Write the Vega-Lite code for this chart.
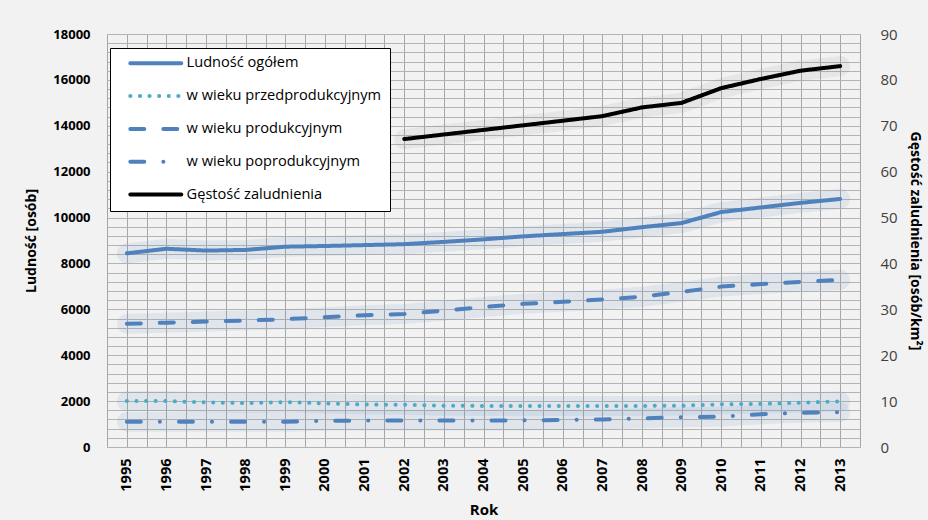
{
  "$schema": "https://vega.github.io/schema/vega-lite/v6.json",
  "width": 753,
  "height": 413,
  "autosize": {"type": "none"},
  "padding": {"left": 107, "top": 34, "right": 68, "bottom": 73},
  "background": "#f2f2f2",
  "config": {
    "font": "Open Sans",
    "view": {"stroke": null, "fill": "#f2f2f2"},
    "legend": {
      "orient": "none",
      "legendX": 3,
      "legendY": 14,
      "fillColor": "#ffffff",
      "strokeColor": "#000000",
      "padding": 8,
      "symbolType": "M-1,0L16,0",
      "symbolStrokeWidth": 4,
      "symbolSize": 36,
      "symbolOffset": 8,
      "labelFontSize": 14.6,
      "labelColor": "#000000",
      "labelOffset": 46,
      "labelLimit": 400,
      "rowPadding": 15.8
    }
  },
  "datasets": {
    "pop": [
      {"year": 1995, "series": "Ludność ogółem", "value": 8440},
      {"year": 1996, "series": "Ludność ogółem", "value": 8640},
      {"year": 1997, "series": "Ludność ogółem", "value": 8560},
      {"year": 1998, "series": "Ludność ogółem", "value": 8590},
      {"year": 1999, "series": "Ludność ogółem", "value": 8730},
      {"year": 2000, "series": "Ludność ogółem", "value": 8760},
      {"year": 2001, "series": "Ludność ogółem", "value": 8800},
      {"year": 2002, "series": "Ludność ogółem", "value": 8840},
      {"year": 2003, "series": "Ludność ogółem", "value": 8940},
      {"year": 2004, "series": "Ludność ogółem", "value": 9050},
      {"year": 2005, "series": "Ludność ogółem", "value": 9180},
      {"year": 2006, "series": "Ludność ogółem", "value": 9280},
      {"year": 2007, "series": "Ludność ogółem", "value": 9380},
      {"year": 2008, "series": "Ludność ogółem", "value": 9580},
      {"year": 2009, "series": "Ludność ogółem", "value": 9760},
      {"year": 2010, "series": "Ludność ogółem", "value": 10240},
      {"year": 2011, "series": "Ludność ogółem", "value": 10440},
      {"year": 2012, "series": "Ludność ogółem", "value": 10640},
      {"year": 2013, "series": "Ludność ogółem", "value": 10810},
      {"year": 1995, "series": "w wieku przedprodukcyjnym", "value": 2000},
      {"year": 1996, "series": "w wieku przedprodukcyjnym", "value": 2000},
      {"year": 1997, "series": "w wieku przedprodukcyjnym", "value": 1950},
      {"year": 1998, "series": "w wieku przedprodukcyjnym", "value": 1910},
      {"year": 1999, "series": "w wieku przedprodukcyjnym", "value": 1960},
      {"year": 2000, "series": "w wieku przedprodukcyjnym", "value": 1900},
      {"year": 2001, "series": "w wieku przedprodukcyjnym", "value": 1850},
      {"year": 2002, "series": "w wieku przedprodukcyjnym", "value": 1840},
      {"year": 2003, "series": "w wieku przedprodukcyjnym", "value": 1800},
      {"year": 2004, "series": "w wieku przedprodukcyjnym", "value": 1790},
      {"year": 2005, "series": "w wieku przedprodukcyjnym", "value": 1790},
      {"year": 2006, "series": "w wieku przedprodukcyjnym", "value": 1790},
      {"year": 2007, "series": "w wieku przedprodukcyjnym", "value": 1790},
      {"year": 2008, "series": "w wieku przedprodukcyjnym", "value": 1790},
      {"year": 2009, "series": "w wieku przedprodukcyjnym", "value": 1800},
      {"year": 2010, "series": "w wieku przedprodukcyjnym", "value": 1860},
      {"year": 2011, "series": "w wieku przedprodukcyjnym", "value": 1880},
      {"year": 2012, "series": "w wieku przedprodukcyjnym", "value": 1930},
      {"year": 2013, "series": "w wieku przedprodukcyjnym", "value": 1990},
      {"year": 1995, "series": "w wieku produkcyjnym", "value": 5370},
      {"year": 1996, "series": "w wieku produkcyjnym", "value": 5420},
      {"year": 1997, "series": "w wieku produkcyjnym", "value": 5470},
      {"year": 1998, "series": "w wieku produkcyjnym", "value": 5510},
      {"year": 1999, "series": "w wieku produkcyjnym", "value": 5570},
      {"year": 2000, "series": "w wieku produkcyjnym", "value": 5660},
      {"year": 2001, "series": "w wieku produkcyjnym", "value": 5740},
      {"year": 2002, "series": "w wieku produkcyjnym", "value": 5800},
      {"year": 2003, "series": "w wieku produkcyjnym", "value": 5940},
      {"year": 2004, "series": "w wieku produkcyjnym", "value": 6100},
      {"year": 2005, "series": "w wieku produkcyjnym", "value": 6240},
      {"year": 2006, "series": "w wieku produkcyjnym", "value": 6330},
      {"year": 2007, "series": "w wieku produkcyjnym", "value": 6430},
      {"year": 2008, "series": "w wieku produkcyjnym", "value": 6550},
      {"year": 2009, "series": "w wieku produkcyjnym", "value": 6760},
      {"year": 2010, "series": "w wieku produkcyjnym", "value": 6990},
      {"year": 2011, "series": "w wieku produkcyjnym", "value": 7100},
      {"year": 2012, "series": "w wieku produkcyjnym", "value": 7200},
      {"year": 2013, "series": "w wieku produkcyjnym", "value": 7290},
      {"year": 1995, "series": "w wieku poprodukcyjnym", "value": 1100},
      {"year": 1996, "series": "w wieku poprodukcyjnym", "value": 1100},
      {"year": 1997, "series": "w wieku poprodukcyjnym", "value": 1100},
      {"year": 1998, "series": "w wieku poprodukcyjnym", "value": 1100},
      {"year": 1999, "series": "w wieku poprodukcyjnym", "value": 1100},
      {"year": 2000, "series": "w wieku poprodukcyjnym", "value": 1140},
      {"year": 2001, "series": "w wieku poprodukcyjnym", "value": 1150},
      {"year": 2002, "series": "w wieku poprodukcyjnym", "value": 1150},
      {"year": 2003, "series": "w wieku poprodukcyjnym", "value": 1150},
      {"year": 2004, "series": "w wieku poprodukcyjnym", "value": 1150},
      {"year": 2005, "series": "w wieku poprodukcyjnym", "value": 1160},
      {"year": 2006, "series": "w wieku poprodukcyjnym", "value": 1180},
      {"year": 2007, "series": "w wieku poprodukcyjnym", "value": 1200},
      {"year": 2008, "series": "w wieku poprodukcyjnym", "value": 1250},
      {"year": 2009, "series": "w wieku poprodukcyjnym", "value": 1300},
      {"year": 2010, "series": "w wieku poprodukcyjnym", "value": 1320},
      {"year": 2011, "series": "w wieku poprodukcyjnym", "value": 1430},
      {"year": 2012, "series": "w wieku poprodukcyjnym", "value": 1490},
      {"year": 2013, "series": "w wieku poprodukcyjnym", "value": 1520}
    ],
    "dens": [
      {"year": 2002, "series": "Gęstość zaludnienia", "value": 67.1},
      {"year": 2003, "series": "Gęstość zaludnienia", "value": 68.1},
      {"year": 2004, "series": "Gęstość zaludnienia", "value": 69.1},
      {"year": 2005, "series": "Gęstość zaludnienia", "value": 70.1},
      {"year": 2006, "series": "Gęstość zaludnienia", "value": 71.1},
      {"year": 2007, "series": "Gęstość zaludnienia", "value": 72.1},
      {"year": 2008, "series": "Gęstość zaludnienia", "value": 74.0},
      {"year": 2009, "series": "Gęstość zaludnienia", "value": 75.0},
      {"year": 2010, "series": "Gęstość zaludnienia", "value": 78.2},
      {"year": 2011, "series": "Gęstość zaludnienia", "value": 80.2},
      {"year": 2012, "series": "Gęstość zaludnienia", "value": 82.0},
      {"year": 2013, "series": "Gęstość zaludnienia", "value": 83.0}
    ]
  },
  "encoding": {
    "x": {
      "field": "year",
      "type": "quantitative",
      "scale": {"domain": [1994.5, 2013.5], "nice": false, "zero": false},
      "axis": {
        "title": "Rok",
        "titleFontSize": 15,
        "titleFontWeight": "bold",
        "titleColor": "#000000",
        "titlePadding": 11,
        "values": [1994.5, 1995, 1995.5, 1996, 1996.5, 1997, 1997.5, 1998, 1998.5, 1999, 1999.5, 2000, 2000.5, 2001, 2001.5, 2002, 2002.5, 2003, 2003.5, 2004, 2004.5, 2005, 2005.5, 2006, 2006.5, 2007, 2007.5, 2008, 2008.5, 2009, 2009.5, 2010, 2010.5, 2011, 2011.5, 2012, 2012.5, 2013, 2013.5],
        "labelExpr": "datum.value % 1 === 0 ? format(datum.value, 'd') : ''",
        "labelAngle": -90,
        "labelAlign": "right",
        "labelBaseline": "middle",
        "labelFontSize": 14.5,
        "labelFontWeight": "bold",
        "labelColor": "#000000",
        "labelPadding": 11,
        "labelOverlap": false,
        "ticks": false,
        "domain": false,
        "grid": true,
        "gridColor": "#a6a6a6",
        "gridWidth": 1
      }
    }
  },
  "layer": [
    {
      "data": {"name": "pop"},
      "encoding": {
        "y": {
          "field": "value",
          "type": "quantitative",
          "scale": {"domain": [0, 18000], "nice": false},
          "axis": {
            "title": "Ludność [osób]",
            "titleFontSize": 14,
            "titleFontWeight": "bold",
            "titleColor": "#000000",
            "titlePadding": 14,
            "values": [0, 400, 800, 1200, 1600, 2000, 2400, 2800, 3200, 3600, 4000, 4400, 4800, 5200, 5600, 6000, 6400, 6800, 7200, 7600, 8000, 8400, 8800, 9200, 9600, 10000, 10400, 10800, 11200, 11600, 12000, 12400, 12800, 13200, 13600, 14000, 14400, 14800, 15200, 15600, 16000, 16400, 16800, 17200, 17600, 18000],
            "labelExpr": "datum.value % 2000 === 0 ? format(datum.value, 'd') : ''",
            "labelFontSize": 13,
            "labelFontWeight": "bold",
            "labelColor": "#000000",
            "labelPadding": 17,
            "labelOverlap": false,
            "ticks": false,
            "domain": false,
            "grid": true,
            "gridColor": "#b3b3b3",
            "gridWidth": 1
          }
        }
      },
      "layer": [
        {
          "mark": {"type": "line", "strokeWidth": 20, "opacity": 0.13, "stroke": "#6f96cc", "strokeCap": "round"},
          "encoding": {"detail": {"field": "series"}}
        },
        {
          "mark": {"type": "line", "strokeWidth": 4, "strokeCap": "round", "strokeJoin": "round"},
          "encoding": {
            "color": {
              "field": "series",
              "type": "nominal",
              "scale": {
                "domain": ["Ludność ogółem", "w wieku przedprodukcyjnym", "w wieku produkcyjnym", "w wieku poprodukcyjnym", "Gęstość zaludnienia"],
                "range": ["#4f81bd", "#4bacc6", "#4f81bd", "#4f81bd", "#000000"]
              },
              "legend": {
                "title": null,
                "encode": {"symbols": {"update": {"strokeCap": {"value": "round"}}}}
              }
            },
            "strokeDash": {
              "field": "series",
              "type": "nominal",
              "scale": {
                "domain": ["Ludność ogółem", "w wieku przedprodukcyjnym", "w wieku produkcyjnym", "w wieku poprodukcyjnym", "Gęstość zaludnienia"],
                "range": [[1, 0], [0.1, 9.5], [14, 19], [14, 19, 0.1, 19], [1, 0]]
              },
              "legend": {
                "title": null,
                "encode": {"symbols": {"update": {"strokeCap": {"value": "round"}}}}
              }
            }
          }
        }
      ]
    },
    {
      "data": {"name": "dens"},
      "encoding": {
        "y": {
          "field": "value",
          "type": "quantitative",
          "scale": {"domain": [0, 90], "nice": false},
          "axis": {
            "orient": "right",
            "title": "Gęstość zaludnienia [osób/km²]",
            "titleFontSize": 14,
            "titleFontWeight": "bold",
            "titleColor": "#000000",
            "titlePadding": 10,
            "values": [0, 10, 20, 30, 40, 50, 60, 70, 80, 90],
            "labelFontSize": 15,
            "labelColor": "#404040",
            "labelPadding": 20,
            "ticks": false,
            "domain": false,
            "grid": false
          }
        }
      },
      "layer": [
        {
          "mark": {"type": "line", "strokeWidth": 20, "opacity": 0.08, "stroke": "#555555", "strokeCap": "round"},
          "encoding": {}
        },
        {
          "mark": {"type": "line", "strokeWidth": 4, "strokeCap": "round", "strokeJoin": "round"},
          "encoding": {
            "color": {"field": "series", "type": "nominal"},
            "strokeDash": {"field": "series", "type": "nominal"}
          }
        }
      ]
    }
  ],
  "resolve": {"scale": {"y": "independent"}}
}
